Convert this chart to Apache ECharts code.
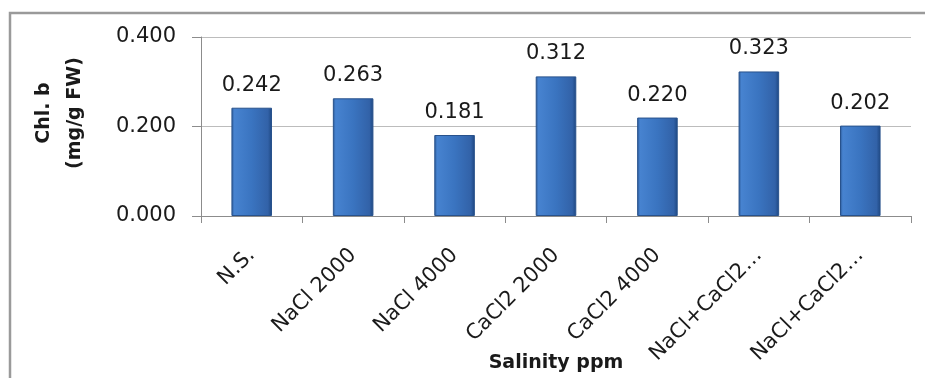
<!DOCTYPE html>
<html>
<head>
<meta charset="utf-8">
<script src="https://cdn.jsdelivr.net/npm/echarts@6/dist/echarts.min.js"></script>
<style>
html,body{margin:0;padding:0;background:#fff;}
#c{width:925px;height:378px;}
</style>
</head>
<body>
<div id="c"></div>
<script>
var categories = ['N.S.', 'NaCl 2000', 'NaCl 4000', 'CaCl2 2000', 'CaCl2 4000', 'NaCl+CaCl2…', 'NaCl+CaCl2…'];
var values = [0.242, 0.263, 0.181, 0.312, 0.220, 0.323, 0.202];
var yTicks = [0, 0.2, 0.4];
var yTitle = 'Chl. b\n(mg/g FW)';
var xTitle = 'Salinity ppm';

var chart = echarts.init(document.getElementById('c'), null, {renderer: 'canvas', width: 925, height: 378});
var numFont = 'DejaVu Sans';
chart.setOption({
  animation: false,
  backgroundColor: '#ffffff',
  grid: {left: 201, width: 710, top: 37, height: 179, containLabel: false, outerBoundsMode: 'none'},
  xAxis: {
    type: 'category',
    data: categories.map(function (c, i) { return {value: c + '\u200b'.repeat(i)}; }),
    boundaryGap: true,
    axisLine: {show: true, lineStyle: {color: '#8c8c8c', width: 1}},
    axisTick: {show: true, length: 7, alignWithLabel: false, lineStyle: {color: '#8c8c8c'}},
    axisLabel: {
      rotate: 45, interval: 0, margin: 36,
      color: '#1a1a1a', fontFamily: numFont, fontSize: 21
    },
    name: xTitle,
    nameLocation: 'middle',
    nameGap: 147,
    nameMoveOverlap: false,
    nameTextStyle: {fontFamily: numFont, fontWeight: 'bold', fontSize: 19, color: '#1a1a1a', verticalAlign: 'middle'}
  },
  yAxis: {
    type: 'value',
    min: 0, max: 0.4, interval: 0.2,
    axisLine: {show: true, lineStyle: {color: '#8c8c8c', width: 1}},
    axisTick: {show: true, length: 9, lineStyle: {color: '#8c8c8c'}},
    splitLine: {show: true, lineStyle: {color: '#bcbcbc', width: 1}},
    axisLabel: {
      margin: 25, color: '#1a1a1a', fontFamily: numFont, fontSize: 21,
      formatter: function (v) { return v.toFixed(3); }
    }
  },
  series: [{
    type: 'bar',
    data: values,
    barWidth: '40%',
    itemStyle: {
      color: new echarts.graphic.LinearGradient(0, 0, 1, 0, [
        {offset: 0, color: '#2a5896'},
        {offset: 0.07, color: '#4783d0'},
        {offset: 0.5, color: '#3a74c0'},
        {offset: 0.9, color: '#3262a8'},
        {offset: 1, color: '#1d4680'}
      ]),
      borderColor: '#28528c',
      borderWidth: 1
    },
    label: {
      show: true, position: 'top', distance: 12,
      color: '#1a1a1a', fontFamily: numFont, fontSize: 21,
      formatter: function (p) { return p.value.toFixed(3); }
    }
  }],
  graphic: [
    {
      type: 'rect', silent: true,
      shape: {x: 10, y: 13, width: 1000, height: 600},
      style: {fill: 'none', stroke: '#9a9a9a', lineWidth: 2.5}
    },
    {
      type: 'text', silent: true,
      x: 60, y: 113, rotation: Math.PI / 2,
      style: {
        text: yTitle, align: 'center', verticalAlign: 'middle',
        font: 'bold 19px "DejaVu Sans"', lineHeight: 31, fill: '#1a1a1a'
      }
    }
  ]
});
</script>
</body>
</html>
